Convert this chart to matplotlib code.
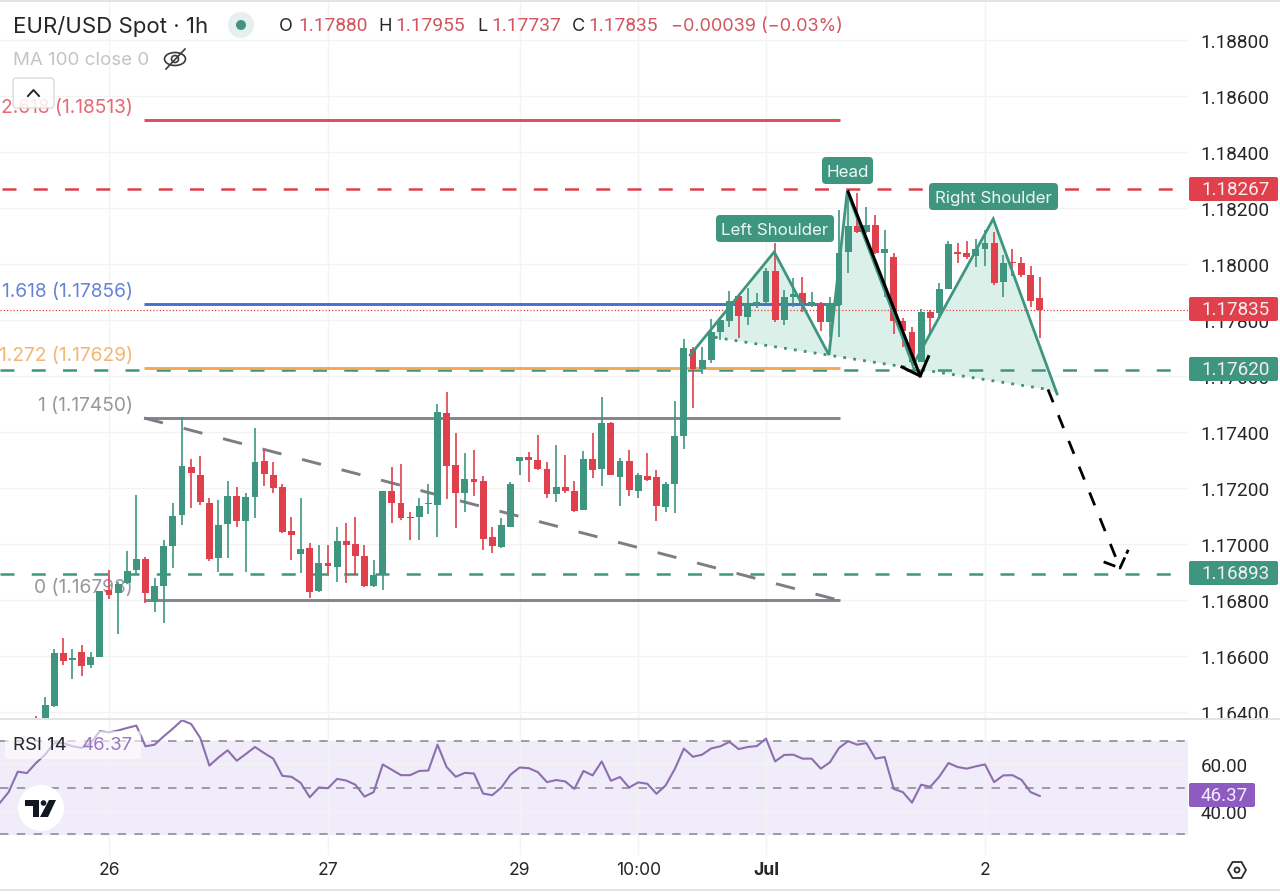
import matplotlib
matplotlib.use("Agg")
import matplotlib.pyplot as plt
from matplotlib.patches import Circle, Ellipse, FancyBboxPatch, Polygon, Rectangle

plt.rcParams["font.family"] = ["Inter", "DejaVu Sans"]
NUM_FONT = ["Roboto", "DejaVu Sans"]

# hourly candles, first one is bar -8 (bar 0 is the "26" tick)
first_bar = -8
opens = [1.16375, 1.16365, 1.16421, 1.16609, 1.16584, 1.16614, 1.16566, 1.16595, 1.16835, 1.16824, 1.16862,
         1.16907, 1.16945, 1.16794, 1.16851, 1.16994, 1.17103, 1.17276, 1.17246, 1.17147, 1.16949, 1.17071,
         1.17171, 1.17083, 1.17169, 1.17295, 1.17246, 1.17202, 1.17045, 1.16964, 1.16987, 1.16831, 1.16931,
         1.16919, 1.17012, 1.17000, 1.16958, 1.16851, 1.16889, 1.17188, 1.17145, 1.17097, 1.17095, 1.17141,
         1.17139, 1.17469, 1.17283, 1.17183, 1.17233, 1.17224, 1.17024, 1.16990, 1.17062, 1.17297, 1.17310,
         1.17300, 1.17266, 1.17177, 1.17202, 1.17188, 1.17121, 1.17302, 1.17266, 1.17431, 1.17239, 1.17295,
         1.17190, 1.17244, 1.17239, 1.17132, 1.17214, 1.17387, 1.17695, 1.17624, 1.17657, 1.17758, 1.17795,
         1.17886, 1.17809, 1.17853, 1.17865, 1.17975, 1.17800, 1.17881, 1.17897, 1.17853, 1.17857, 1.17794,
         1.17853, 1.18044, 1.18136, 1.18115, 1.18139, 1.18038, 1.18026, 1.17795, 1.17756, 1.17651, 1.17827,
         1.17824, 1.17909, 1.18042, 1.18038, 1.18028, 1.18052, 1.18074, 1.17936, 1.18007, 1.18002, 1.17961,
         1.17880]
highs = [1.16385, 1.16454, 1.16624, 1.16663, 1.16624, 1.16639, 1.16614, 1.16831, 1.16907, 1.16865, 1.16975,
         1.17175, 1.16952, 1.16877, 1.17014, 1.17145, 1.17454, 1.17302, 1.17314, 1.17163, 1.17157, 1.17226,
         1.17204, 1.17183, 1.17413, 1.17335, 1.17294, 1.17214, 1.17095, 1.17163, 1.17004, 1.16996, 1.16996,
         1.17062, 1.17074, 1.17097, 1.16996, 1.16943, 1.17188, 1.17276, 1.17285, 1.17115, 1.17163, 1.17214,
         1.17500, 1.17543, 1.17395, 1.17324, 1.17335, 1.17244, 1.17062, 1.17094, 1.17222, 1.17312, 1.17329,
         1.17388, 1.17291, 1.17353, 1.17316, 1.17225, 1.17333, 1.17395, 1.17526, 1.17435, 1.17306, 1.17335,
         1.17254, 1.17324, 1.17264, 1.17222, 1.17509, 1.17733, 1.17702, 1.17704, 1.17802, 1.17812, 1.17905,
         1.17889, 1.17913, 1.17895, 1.17984, 1.18074, 1.17907, 1.17949, 1.17952, 1.17901, 1.17865, 1.17883,
         1.18193, 1.18258, 1.18252, 1.18202, 1.18175, 1.18121, 1.18040, 1.17806, 1.17776, 1.17840, 1.17836,
         1.17933, 1.18083, 1.18074, 1.18083, 1.18088, 1.18121, 1.18115, 1.18032, 1.18055, 1.18024, 1.17994,
         1.17955]
lows = [1.16340, 1.16347, 1.16419, 1.16568, 1.16516, 1.16528, 1.16556, 1.16595, 1.16802, 1.16678, 1.16857,
        1.16889, 1.16788, 1.16758, 1.16719, 1.16913, 1.17068, 1.17127, 1.17139, 1.16940, 1.16901, 1.16949,
        1.17062, 1.16901, 1.17091, 1.17207, 1.17181, 1.17040, 1.16943, 1.16895, 1.16806, 1.16829, 1.16885,
        1.16865, 1.16862, 1.16889, 1.16847, 1.16847, 1.16835, 1.17074, 1.17085, 1.17014, 1.17014, 1.17106,
        1.17024, 1.17159, 1.17058, 1.17115, 1.17172, 1.16978, 1.16966, 1.16984, 1.17062, 1.17246, 1.17220,
        1.17264, 1.17163, 1.17151, 1.17181, 1.17115, 1.17121, 1.17234, 1.17207, 1.17245, 1.17137, 1.17171,
        1.17165, 1.17226, 1.17081, 1.17115, 1.17109, 1.17338, 1.17487, 1.17607, 1.17645, 1.17728, 1.17776,
        1.17734, 1.17782, 1.17842, 1.17862, 1.17794, 1.17782, 1.17847, 1.17830, 1.17847, 1.17762, 1.17740,
        1.17740, 1.17967, 1.18109, 1.18109, 1.18036, 1.17883, 1.17750, 1.17705, 1.17645, 1.17649, 1.17746,
        1.17812, 1.17909, 1.18005, 1.18018, 1.17990, 1.17993, 1.17924, 1.17883, 1.17957, 1.17955, 1.17847,
        1.17737]
closes = [1.16350, 1.16426, 1.16609, 1.16583, 1.16591, 1.16564, 1.16595, 1.16831, 1.16819, 1.16857, 1.16904,
          1.16945, 1.16824, 1.16851, 1.16994, 1.17101, 1.17278, 1.17252, 1.17151, 1.16945, 1.17068, 1.17171,
          1.17081, 1.17169, 1.17291, 1.17250, 1.17201, 1.17043, 1.17033, 1.16982, 1.16829, 1.16931, 1.16921,
          1.17012, 1.16997, 1.16958, 1.16851, 1.16889, 1.17188, 1.17147, 1.17091, 1.17092, 1.17135, 1.17145,
          1.17472, 1.17279, 1.17183, 1.17233, 1.17221, 1.17016, 1.16993, 1.17066, 1.17214, 1.17310, 1.17301,
          1.17266, 1.17177, 1.17202, 1.17189, 1.17119, 1.17302, 1.17263, 1.17433, 1.17247, 1.17296, 1.17193,
          1.17247, 1.17229, 1.17134, 1.17215, 1.17387, 1.17700, 1.17624, 1.17657, 1.17756, 1.17800, 1.17869,
          1.17815, 1.17857, 1.17865, 1.17975, 1.17800, 1.17883, 1.17893, 1.17857, 1.17865, 1.17794, 1.17857,
          1.18038, 1.18136, 1.18113, 1.18138, 1.18038, 1.18052, 1.17797, 1.17762, 1.17651, 1.17827, 1.17808,
          1.17909, 1.18071, 1.18037, 1.18024, 1.18052, 1.18074, 1.17933, 1.18002, 1.18002, 1.17962, 1.17869,
          1.17835]

# RSI 14, first value is bar -12
rsi_first_bar = -12
rsi_values = [43.2, 48.0, 56.8, 56.2, 60.5, 64.1, 69.1, 69.1, 67.7, 67.0, 69.1, 74.2, 73.7, 74.5, 75.6, 76.6,
              67.7, 68.4, 72.0, 75.3, 78.9, 77.3, 71.3, 59.4, 62.9, 66.0, 61.5, 64.4, 67.4, 64.8, 62.4, 55.0,
              54.6, 52.0, 45.8, 50.0, 49.7, 53.7, 53.0, 51.2, 46.1, 48.0, 59.9, 57.6, 55.3, 55.3, 57.1, 57.3,
              68.4, 58.8, 54.6, 56.3, 56.0, 47.4, 46.7, 50.0, 55.5, 58.6, 58.3, 56.6, 52.3, 53.2, 52.6, 49.4,
              57.1, 55.2, 61.2, 52.9, 54.5, 50.0, 52.2, 51.6, 47.3, 50.9, 57.9, 66.7, 63.2, 64.1, 66.8, 67.7,
              69.6, 66.5, 67.4, 67.8, 71.0, 61.2, 64.0, 64.1, 62.4, 62.4, 58.1, 60.8, 67.0, 69.9, 68.4, 69.1,
              62.4, 63.1, 49.4, 48.0, 43.5, 51.2, 50.3, 54.7, 60.5, 58.8, 58.1, 59.1, 59.9, 52.3, 55.2, 55.3,
              53.3, 48.0, 46.37]

price_ticks = [1.188, 1.186, 1.184, 1.182, 1.180, 1.178, 1.176, 1.174, 1.172, 1.170, 1.168, 1.166, 1.164]
rsi_ticks = [60, 40]
time_ticks = [0, 24, 45, 58, 72, 96]
time_labels = ["26", "27", "29", "10:00", "Jul", "2"]

# drawn levels
fib_start, fib_end = 3.84, 80.1
fib_levels = [1.18513, 1.17856, 1.17629, 1.17450, 1.16798]
fib_labels = ["2.618 (1.18513)", "1.618 (1.17856)", "1.272 (1.17629)", "1 (1.17450)", "0 (1.16798)"]
fib_colors = ["#e0434e", "#3f66d0", "#f2a44c", "#7d7d85", "#7d7d85"]
support_levels = [1.17620, 1.16893]
resistance_level = 1.18267
last_close = 1.17835

# head and shoulders, (bar, price)
zigzag_bars = [63.7, 72.9, 78.9, 80.9, 88.1, 96.9, 103.9]
zigzag_prices = [1.17675, 1.18043, 1.17675, 1.18258, 1.17639, 1.18161, 1.17536]
neck_bars = [66.4, 102.9]
neck_prices = [1.17738, 1.17552]
drop_bars = [81.0, 88.9]
drop_prices = [1.18258, 1.17600]
drop_head_bars = [86.9, 88.9, 89.8]
drop_head_prices = [1.17632, 1.17600, 1.17669]
target_bars = [102.9, 110.8]
target_prices = [1.17552, 1.16914]
target_head_bars = [109.0, 110.8, 111.7]
target_head_prices = [1.16936, 1.16914, 1.16979]

GREEN = "#3f9680"
RED = "#e0404c"
GRID = "#f3f3f4"
TEXT = "#26262b"
W, H = 1280, 895


def axes_box(x0, y0, x1, y1):
    return [x0 / W, 1 - y1 / H, (x1 - x0) / W, (y1 - y0) / H]


fig = plt.figure(figsize=(12.8, 8.95), dpi=100, facecolor="white")
ax = fig.add_axes(axes_box(0, 3, 1188, 721))
ax_rsi = fig.add_axes(axes_box(0, 721, 1188, 856))
ov = fig.add_axes([0, 0, 1, 1], zorder=5)
ov.set_xlim(0, W)
ov.set_ylim(H, 0)
ov.axis("off")
ov.patch.set_alpha(0)

x_left, x_right = -11.945, 118.247
ax.set_xlim(x_left, x_right)
ax.set_ylim(1.16371, 1.18936)
ax_rsi.set_xlim(x_left, x_right)
ax_rsi.set_ylim(21.0, 79.0)

for a in (ax, ax_rsi):
    for s in a.spines.values():
        s.set_visible(False)
    a.set_xticks(time_ticks)
    a.set_xticklabels([])
    a.tick_params(length=0)
    a.grid(True, color=GRID, linewidth=1)
    a.set_axisbelow(True)
    a.yaxis.tick_right()

ax.set_yticks(price_ticks)
ax.set_yticklabels([f"{p:.5f}" for p in price_ticks], fontsize=13.7, color=TEXT, family=NUM_FONT)
ax.tick_params(axis="y", pad=9)
ax_rsi.set_yticks(rsi_ticks)
ax_rsi.set_yticklabels([f"{r:.2f}" for r in rsi_ticks], fontsize=13.5, color=TEXT, family=NUM_FONT)
ax_rsi.tick_params(axis="y", pad=9)

# levels behind the candles
for level, color in zip(fib_levels, fib_colors):
    ax.plot([fib_start, fib_end], [level, level], color=color, lw=2.1, zorder=2.4, alpha=0.95, solid_capstyle="butt")
ax.plot([fib_start, fib_end], [fib_levels[3], fib_levels[4]], color="#7d7d85", lw=2.1,
        linestyle=(0, (6.7, 7.3)), zorder=2.1)
for level in support_levels:
    ax.plot([x_left, x_right], [level, level], color=GREEN, lw=1.8, linestyle=(0, (5.6, 6.9)), zorder=2.2)
ax.plot([x_left, x_right], [resistance_level] * 2, color=RED, lw=1.8, linestyle=(11.7, (5.6, 6.9)), zorder=2.2)
ax.plot([x_left, x_right], [last_close] * 2, color=RED, lw=0.9, linestyle=(0, (1, 1.6)), zorder=2.2)

# pattern fill goes under the candles, its outline over them
fill_pts = list(zip(zigzag_bars[1:], zigzag_prices[1:])) + [(neck_bars[1], neck_prices[1]), (neck_bars[0], neck_prices[0])]
fill_pts.insert(0, (66.4, 1.17755))
ax.add_patch(Polygon(fill_pts, closed=True, facecolor="#dcf0ea", edgecolor="none", zorder=1.5))

bars = [first_bar + i for i in range(len(opens))]
for b, o, h, l, c in zip(bars, opens, highs, lows, closes):
    color = GREEN if c >= o else RED
    ax.vlines(b, l, h, color=color, lw=1.2, zorder=3)
    ax.bar(b, abs(c - o), bottom=min(o, c), width=0.76, color=color, zorder=3.1)

ax.plot(zigzag_bars, zigzag_prices, color=GREEN, lw=2, zorder=4, solid_joinstyle="miter")
ax.plot(neck_bars, neck_prices, color="#3f8f7a", lw=2, linestyle=(0, (1, 2.6)), zorder=4)
ax.plot(drop_bars, drop_prices, color="black", lw=2.2, zorder=4.2)
ax.plot(drop_head_bars, drop_head_prices, color="black", lw=2.2, zorder=4.2)
ax.plot(target_bars, target_prices, color="black", lw=2, linestyle=(0, (5, 5)), zorder=4.2)
ax.plot(target_head_bars, target_head_prices, color="black", lw=2, linestyle=(0, (4.5, 1.5)), zorder=4.2)

# RSI panel
ax_rsi.axhspan(30, 70, color="#f1ecfa", zorder=0.5)
for level in (70, 50, 30):
    ax_rsi.axhline(level, color="#85858b", lw=1.1, linestyle=(0, (5.5, 5.5)), zorder=1.5)
rsi_bars = [rsi_first_bar + i for i in range(len(rsi_values))]
ax_rsi.plot(rsi_bars, rsi_values, color="#8b6fae", lw=1.5, zorder=3)

# frame lines
for y in (2, 720, 891):
    ov.plot([0, W], [y, y], color="#e3e3e5", lw=1.4)

# fib labels
for label, level, color in zip(fib_labels, fib_levels, fib_colors):
    ax.annotate(label, xy=(fib_start, level), xytext=(-8, 9.4), textcoords="offset points", ha="right",
                va="center", fontsize=13.8, color=color, alpha=0.8, zorder=2.5, annotation_clip=False)

# pattern labels
for text, x0, y0, x1, y1 in [("Left Shoulder", 716, 216, 834, 243), ("Head", 822, 158, 873, 185),
                             ("Right Shoulder", 929, 184, 1058, 211)]:
    ov.add_patch(FancyBboxPatch((x0 + 4, y0 + 4), x1 - x0 - 8, y1 - y0 - 8, boxstyle="round,pad=4,rounding_size=4",
                                facecolor=GREEN, edgecolor="none"))
    ov.text((x0 + x1) / 2, (y0 + y1) / 2 + 0.5, text, color="#eef7f4", fontsize=12.2, ha="center", va="center")

# price tags on the scale
for text, yc, color in [("1.18267", 190, RED), ("1.17835", 310, RED), ("1.17620", 370, GREEN), ("1.16893", 574, GREEN)]:
    ov.add_patch(FancyBboxPatch((1191, yc - 10), 85, 20, boxstyle="round,pad=2,rounding_size=2",
                                facecolor=color, edgecolor="none"))
    ov.text(1235.5, yc, text, color="#f6eeee", fontsize=13.5, ha="center", va="center", family=NUM_FONT)
ov.add_patch(FancyBboxPatch((1191, 786), 62, 20, boxstyle="round,pad=2,rounding_size=2", facecolor="#8e5cc0", edgecolor="none"))
ov.text(1224, 796, "46.37", color="#f4eefa", fontsize=13.5, ha="center", va="center", family=NUM_FONT)

# time labels
for tick, label in zip(time_ticks, time_labels):
    px = 109 + tick * 9.125
    ov.text(px, 871, label, color=TEXT, fontsize=12.6, ha="center", va="center",
            fontweight="bold" if label == "Jul" else "normal")

# header
ov.text(13, 26, "EUR/USD Spot · 1h", color=TEXT, fontsize=16, ha="left", va="center")
ov.add_patch(Circle((241, 26), 13, facecolor="#e6f0ee", edgecolor="none"))
ov.add_patch(Circle((241, 26), 5, facecolor=GREEN, edgecolor="none"))
VAL = "#d2555f"
for text, x, color in [("O", 279, TEXT), ("H", 378, TEXT), ("L", 477, TEXT), ("C", 572, TEXT)]:
    ov.text(x, 26, text, color=color, fontsize=13, ha="left", va="center")
for text, x in [("1.17880", 298), ("1.17955", 395), ("1.17737", 491), ("1.17835", 588)]:
    ov.text(x, 26, text, color=VAL, fontsize=13.8, ha="left", va="center", family=NUM_FONT)
ov.text(671, 26, "−0.00039 (−0.03%)", color=VAL, fontsize=13, ha="left", va="center")
ov.text(13, 60, "MA 100 close 0", color="#c4c4c6", fontsize=13.5, ha="left", va="center")
ov.add_patch(Ellipse((175, 60), 21, 13, facecolor="none", edgecolor="#3a3a3f", lw=1.2))
ov.add_patch(Circle((175, 60), 3.5, facecolor="none", edgecolor="#3a3a3f", lw=1.2))
ov.plot([166, 185], [70, 50], color="#3a3a3f", lw=1.2)
ov.add_patch(FancyBboxPatch((15, 81), 37, 26, boxstyle="round,pad=2,rounding_size=3", facecolor="#ffffff", alpha=0.85,
                            edgecolor="#d5d5d8", lw=1))
ov.plot([28, 33.5, 39], [97, 91, 97], color=TEXT, lw=1.4)

# RSI legend and logo
ov.add_patch(Rectangle((5, 732), 136, 28, facecolor="white", alpha=0.6, edgecolor="none"))
ov.text(13, 745, "RSI 14", color=TEXT, fontsize=13.4, ha="left", va="center")
ov.text(82, 745, "46.37", color="#9a78c4", fontsize=13.4, ha="left", va="center")
ov.add_patch(Circle((41, 809), 23, facecolor="white", edgecolor="none"))
ov.add_patch(Polygon([(25, 801), (39, 801), (39, 818), (33, 818), (33, 807), (25, 807)], facecolor="#131722", edgecolor="none"))
ov.add_patch(Circle((43.5, 804), 2.8, facecolor="#131722", edgecolor="none"))
ov.add_patch(Polygon([(49, 801), (56, 801), (48, 818), (40, 818)], facecolor="#131722", edgecolor="none"))

# settings icon
ov.add_patch(Polygon([(1228, 871), (1232.5, 863), (1241.5, 863), (1246, 871), (1241.5, 879), (1232.5, 879)],
                     facecolor="none", edgecolor="#2b2b30", lw=1.3))
ov.add_patch(Circle((1237, 871), 2.5, facecolor="none", edgecolor="#2b2b30", lw=1.3))

fig.savefig("out.png", dpi=100, facecolor="white")
